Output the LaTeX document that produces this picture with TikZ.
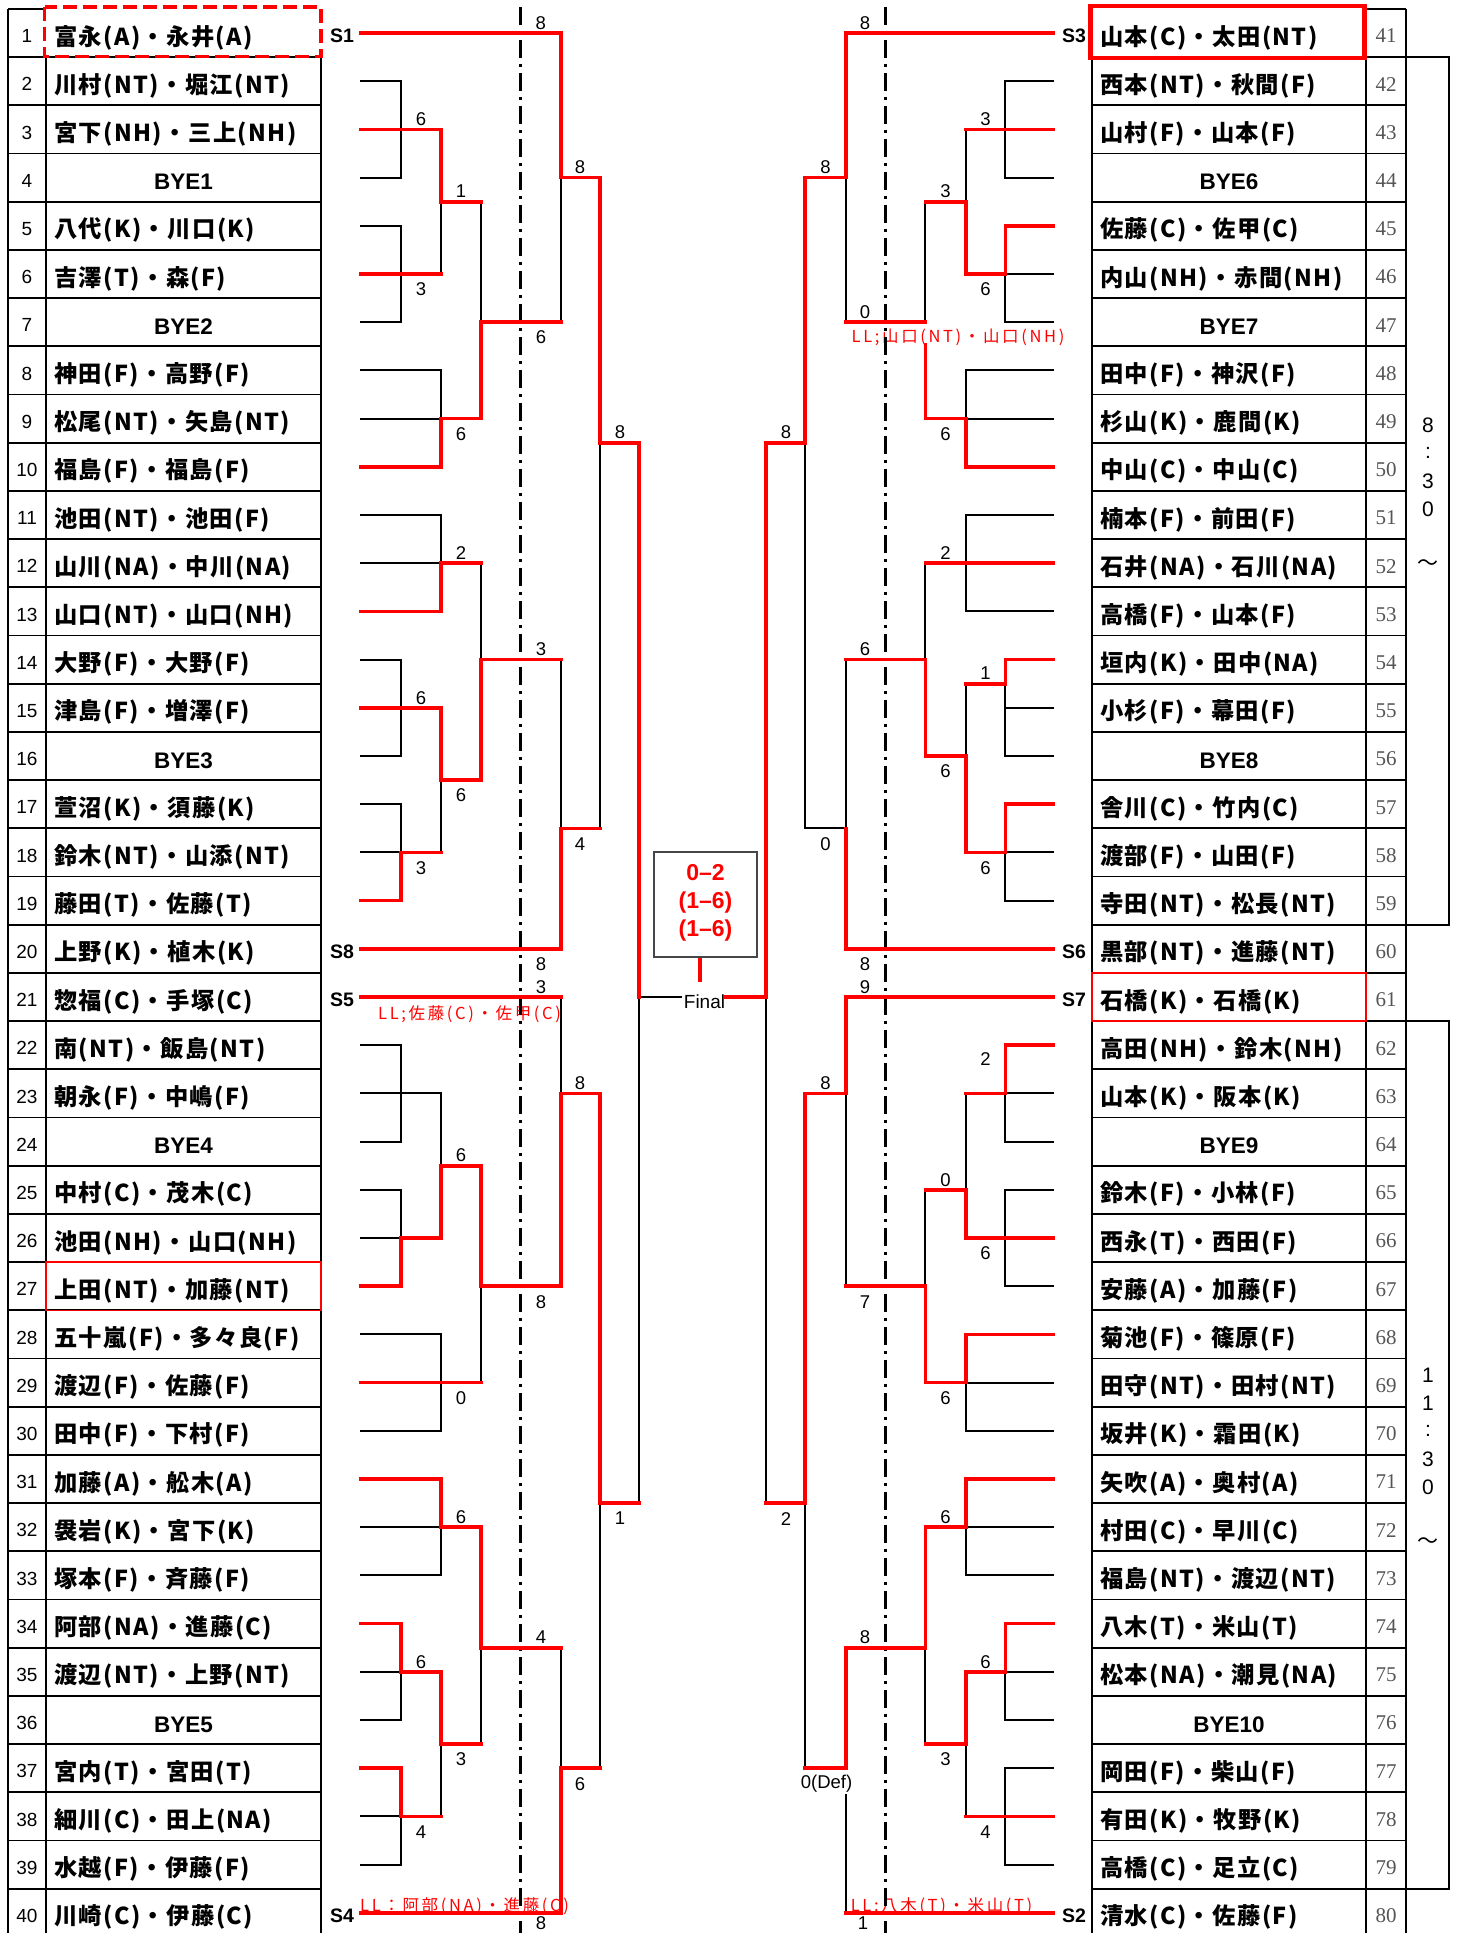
\documentclass[tikz,border=0pt]{standalone}
\usepackage{fontspec}
\setmainfont{Liberation Sans}
\newfontfamily\jp{Noto Sans CJK JP}[LetterSpace=6]
\newfontfamily\jpll{Noto Sans CJK JP}[LetterSpace=16]
\newfontfamily\jpt{Noto Sans CJK JP}
\newfontfamily\numserif{Liberation Serif}
\definecolor{numgray}{RGB}{85,85,85}
\definecolor{boxgray}{RGB}{70,70,70}
\def\xLa{361}\def\xLb{401}\def\xLc{441}\def\xLd{481}\def\xLe{561}\def\xLf{600}\def\xLg{639}
\def\xRa{1053}\def\xRb{1005.3}\def\xRc{965.7}\def\xRd{925.3}\def\xRe{845.7}\def\xRf{805}\def\xRg{766}
\tikzset{
 bk/.style={line width=2pt, black, line cap=rect},
 rd/.style={line width=3.6pt, red, line cap=rect},
 tbl/.style={line width=1.8pt, black},
 nm/.style={font=\jp\bfseries\fontsize{23.3}{23.3}\selectfont, anchor=base west, inner sep=0pt},
 bye/.style={font=\bfseries\fontsize{22.5}{22.5}\selectfont, anchor=base, inner sep=0pt},
 lnum/.style={font=\fontsize{19}{19}\selectfont, anchor=base, inner sep=0pt},
 rnum/.style={font=\numserif\fontsize{21}{21}\selectfont, text=numgray, anchor=base, inner sep=0pt},
 slab/.style={font=\bfseries\fontsize{19.5}{19.5}\selectfont, anchor=base west, inner sep=0pt},
 sc/.style={font=\fontsize{18.5}{18.5}\selectfont, inner sep=0pt},
 lltxt/.style={font=\jpll\fontsize{16.5}{16.5}\selectfont, text=red, anchor=base west, inner sep=0pt},
 tm/.style={font=\fontsize{21}{21}\selectfont, inner sep=0pt},
 dashdot/.style={line width=2.6pt, dash pattern=on 18pt off 6pt on 3pt off 6pt},
}
\begin{document}
\begin{tikzpicture}[x=1pt, y=-24.1pt, line join=miter]
\useasboundingbox[fill=white] (0,-1.36929) rectangle (1459,78.8382);
% ---------- tables ----------
\foreach \h in {1,3,...,77} \draw[tbl] (8,\h)--(321,\h);
\draw[tbl] (8,-1)--(46,-1);
\draw[tbl] (8,-1)--(8,79);
\draw[tbl] (46,1)--(46,79);
\draw[tbl] (321,1)--(321,79);
\foreach \h in {1,3,...,77} \draw[tbl] (1092,\h)--(1406,\h);
\draw[tbl] (1366,-1)--(1406,-1);
\draw[tbl] (1092,1)--(1092,79);
\draw[tbl] (1366,-1)--(1366,79);
\draw[tbl] (1406,-1)--(1406,79);
\draw[tbl] (1406,1) rectangle (1449,37);
\draw[tbl] (1406,41) rectangle (1449,77);
\draw[red, line width=3.6pt, dash pattern=on 14pt off 6pt] (44.6,-1.08) rectangle (321,0.98);
\draw[red, line width=4.4pt] (1090.5,-1.12) rectangle (1364.5,1.04);
\draw[red, line width=1.6pt] (46,51) rectangle (321,53);
\draw[red, line width=1.6pt] (1092,39) rectangle (1366,41);
% numbers
\foreach \k in {1,...,40} \node[lnum] (l\k) at (27,{2*(\k-1)+0.40}) {\k};
\foreach \k in {41,...,80} \node[rnum] (r\k) at (1386,{2*(\k-41)+0.41}) {\k};
% names left
\foreach \k/\t in {1/富永(A)・永井(A),2/川村(NT)・堀江(NT),3/宮下(NH)・三上(NH),5/八代(K)・川口(K),6/吉澤(T)・森(F),8/神田(F)・高野(F),9/松尾(NT)・矢島(NT),10/福島(F)・福島(F),11/池田(NT)・池田(F),12/山川(NA)・中川(NA),13/山口(NT)・山口(NH),14/大野(F)・大野(F),15/津島(F)・増澤(F),17/萱沼(K)・須藤(K),18/鈴木(NT)・山添(NT),19/藤田(T)・佐藤(T),20/上野(K)・植木(K),21/惣福(C)・手塚(C),22/南(NT)・飯島(NT),23/朝永(F)・中嶋(F),25/中村(C)・茂木(C),26/池田(NH)・山口(NH),27/上田(NT)・加藤(NT),28/五十嵐(F)・多々良(F),29/渡辺(F)・佐藤(F),30/田中(F)・下村(F),31/加藤(A)・舩木(A),32/袰岩(K)・宮下(K),33/塚本(F)・斉藤(F),34/阿部(NA)・進藤(C),35/渡辺(NT)・上野(NT),37/宮内(T)・宮田(T),38/細川(C)・田上(NA),39/水越(F)・伊藤(F),40/川崎(C)・伊藤(C)}
  \node[nm] (n\k) at (54,{2*(\k-1)+0.5}) {\t};
\foreach \k/\t in {4/BYE1,7/BYE2,16/BYE3,24/BYE4,36/BYE5}
  \node[bye] (n\k) at (183.5,{2*(\k-1)+0.51}) {\t};
% names right
\foreach \k/\t in {41/山本(C)・太田(NT),42/西本(NT)・秋間(F),43/山村(F)・山本(F),45/佐藤(C)・佐甲(C),46/内山(NH)・赤間(NH),48/田中(F)・神沢(F),49/杉山(K)・鹿間(K),50/中山(C)・中山(C),51/楠本(F)・前田(F),52/石井(NA)・石川(NA),53/高橋(F)・山本(F),54/垣内(K)・田中(NA),55/小杉(F)・幕田(F),57/舎川(C)・竹内(C),58/渡部(F)・山田(F),59/寺田(NT)・松長(NT),60/黒部(NT)・進藤(NT),61/石橋(K)・石橋(K),62/高田(NH)・鈴木(NH),63/山本(K)・阪本(K),65/鈴木(F)・小林(F),66/西永(T)・西田(F),67/安藤(A)・加藤(F),68/菊池(F)・篠原(F),69/田守(NT)・田村(NT),70/坂井(K)・霜田(K),71/矢吹(A)・奥村(A),72/村田(C)・早川(C),73/福島(NT)・渡辺(NT),74/八木(T)・米山(T),75/松本(NA)・潮見(NA),77/岡田(F)・柴山(F),78/有田(K)・牧野(K),79/高橋(C)・足立(C),80/清水(C)・佐藤(F)}
  \node[nm] (n\k) at (1100,{2*(\k-41)+0.5}) {\t};
\foreach \k/\t in {44/BYE6,47/BYE7,56/BYE8,64/BYE9,76/BYE10}
  \node[bye] (n\k) at (1229,{2*(\k-41)+0.51}) {\t};
% time column
\foreach \c/\h [count=\i] in {8/16.26,:/17.42,3/18.59,0/19.75} \node[tm] (ta\i) at (1428,\h) {\c};
\node[tm, font=\jpt\fontsize{21}{21}\selectfont] (ta5) at (1428,22.07) {～};
\foreach \c/\h [count=\i] in {1/55.68,1/56.84,:/58.00,3/59.17,0/60.33} \node[tm] (tb\i) at (1428,\h) {\c};
\node[tm, font=\jpt\fontsize{21}{21}\selectfont] (tb6) at (1428,62.65) {～};
% S labels
\node[slab] (S1) at (330,0.41) {S1};
\node[slab] (S8) at (330,38.41) {S8};
\node[slab] (S5) at (330,40.41) {S5};
\node[slab] (S4) at (330,78.41) {S4};
\node[slab] (S3) at (1062,0.41) {S3};
\node[slab] (S6) at (1062,38.41) {S6};
\node[slab] (S7) at (1062,40.41) {S7};
\node[slab] (S2) at (1062,78.41) {S2};
% LL texts
\node[lltxt] (ll1) at (378,40.93) {LL;佐藤(C)・佐甲(C)};
\node[lltxt] (ll2) at (851.5,12.86) {LL;山口(NT)・山口(NH)};
\node[lltxt] (ll3) at (360,77.93) {LL：阿部(NA)・進藤(C)};
\node[lltxt] (ll4) at (850.6,77.93) {LL:八木(T)・米山(T)};
% dash-dot lines
\draw[dashdot] (520.7,-1.08)--(520.7,79);
\draw[dashdot] (885.7,-1.08)--(885.7,79);
% ---------- left black ----------
\draw[bk] (\xLa,2)--(\xLb,2)--(\xLb,6)--(\xLa,6);
\draw[bk] (\xLa,8)--(\xLb,8)--(\xLb,12)--(\xLa,12);
\draw[bk] (\xLc,7)--(\xLc,10);
\draw[bk] (\xLa,14)--(\xLc,14)--(\xLc,16);
\draw[bk] (\xLa,16)--(\xLc,16);
\draw[bk] (\xLd,7)--(\xLd,12);
\draw[bk] (\xLe,6)--(\xLe,12);
\draw[bk] (\xLa,20)--(\xLc,20)--(\xLc,22);
\draw[bk] (\xLa,22)--(\xLc,22);
\draw[bk] (\xLd,22)--(\xLd,26);
\draw[bk] (\xLa,26)--(\xLb,26)--(\xLb,30)--(\xLa,30);
\draw[bk] (\xLc,31)--(\xLc,34);
\draw[bk] (\xLa,32)--(\xLb,32)--(\xLb,34)--(\xLa,34);
\draw[bk] (\xLe,26)--(\xLe,33);
\draw[bk] (\xLf,17)--(\xLf,33);
\draw[bk] (\xLe,40)--(\xLe,44);
\draw[bk] (\xLa,42)--(\xLb,42)--(\xLb,46)--(\xLa,46);
\draw[bk] (\xLa,44)--(\xLc,44)--(\xLc,47);
\draw[bk] (\xLa,48)--(\xLb,48)--(\xLb,50)--(\xLa,50);
\draw[bk] (\xLd,52)--(\xLd,56);
\draw[bk] (\xLa,54)--(\xLc,54)--(\xLc,58)--(\xLa,58);
\draw[bk] (\xLa,62)--(\xLc,62)--(\xLc,64)--(\xLa,64);
\draw[bk] (\xLd,67)--(\xLd,71);
\draw[bk] (\xLa,68)--(\xLb,68)--(\xLb,70)--(\xLa,70);
\draw[bk] (\xLc,71)--(\xLc,74);
\draw[bk] (\xLa,74)--(\xLb,74)--(\xLb,76)--(\xLa,76);
\draw[bk] (\xLe,67)--(\xLe,72);
\draw[bk] (\xLf,61)--(\xLf,72);
\draw[bk] (\xLg,40)--(\xLg,61);
\draw[bk] (\xLg,40)--(681,40);
% ---------- right black ----------
\draw[bk] (\xRa,2)--(\xRb,2)--(\xRb,6)--(\xRa,6);
\draw[bk] (\xRc,4)--(\xRc,7);
\draw[bk] (\xRa,10)--(\xRb,10)--(\xRb,12)--(\xRa,12);
\draw[bk] (\xRd,7)--(\xRd,12);
\draw[bk] (\xRe,6)--(\xRe,12);
\draw[bk] (\xRa,14)--(\xRc,14)--(\xRc,16);
\draw[bk] (\xRa,16)--(\xRc,16);
\draw[bk] (\xRa,20)--(\xRc,20)--(\xRc,24)--(\xRa,24);
\draw[bk] (\xRd,22)--(\xRd,26);
\draw[bk] (\xRa,28)--(\xRb,28);
\draw[bk] (\xRb,27)--(\xRb,30)--(\xRa,30);
\draw[bk] (\xRc,27)--(\xRc,30);
\draw[bk] (\xRa,34)--(\xRb,34)--(\xRb,36)--(\xRa,36);
\draw[bk] (\xRe,26)--(\xRe,33)--(\xRf,33);
\draw[bk] (\xRf,17)--(\xRf,33);
\draw[bk] (\xRg,40)--(\xRg,61);
\draw[bk] (\xRe,44)--(\xRe,52);
\draw[bk] (\xRa,44)--(\xRb,44)--(\xRb,46)--(\xRa,46);
\draw[bk] (\xRc,44)--(\xRc,48);
\draw[bk] (\xRa,48)--(\xRb,48)--(\xRb,52)--(\xRa,52);
\draw[bk] (\xRd,48)--(\xRd,52);
\draw[bk] (\xRa,56)--(\xRc,56)--(\xRc,58)--(\xRa,58);
\draw[bk] (\xRa,62)--(\xRc,62)--(\xRc,64)--(\xRa,64);
\draw[bk] (\xRd,67)--(\xRd,71);
\draw[bk] (\xRa,68)--(\xRb,68)--(\xRb,70)--(\xRa,70);
\draw[bk] (\xRc,71)--(\xRc,74);
\draw[bk] (\xRa,72)--(\xRb,72)--(\xRb,76)--(\xRa,76);
\draw[bk] (\xRe,73.1)--(\xRe,78);
\draw[bk] (\xRf,61)--(\xRf,72);
% ---------- left red ----------
\draw[rd] (\xLa,0)--(\xLe,0)--(\xLe,6)--(\xLf,6)--(\xLf,17)--(\xLg,17)--(\xLg,40);
\draw[rd] (\xLa,4)--(\xLc,4)--(\xLc,7)--(\xLd,7);
\draw[rd] (\xLa,10)--(\xLc,10);
\draw[rd] (\xLa,18)--(\xLc,18)--(\xLc,16)--(\xLd,16)--(\xLd,12)--(\xLe,12);
\draw[rd] (\xLa,24)--(\xLc,24)--(\xLc,22)--(\xLd,22);
\draw[rd] (\xLe,26)--(\xLd,26)--(\xLd,31)--(\xLc,31);
\draw[rd] (\xLa,28)--(\xLc,28)--(\xLc,31);
\draw[rd] (\xLa,36)--(\xLb,36)--(\xLb,34)--(\xLc,34);
\draw[rd] (\xLa,38)--(\xLe,38)--(\xLe,33)--(\xLf,33);
\draw[rd] (\xLa,40)--(\xLe,40);
\draw[rd] (\xLf,44)--(\xLe,44)--(\xLe,52)--(\xLd,52)--(\xLd,47)--(\xLc,47)--(\xLc,50)--(\xLb,50)--(\xLb,52)--(\xLa,52);
\draw[rd] (\xLa,56)--(\xLd,56);
\draw[rd] (\xLf,44)--(\xLf,61)--(\xLg,61);
\draw[rd] (\xLa,60)--(\xLc,60)--(\xLc,62)--(\xLd,62)--(\xLd,67)--(\xLe,67);
\draw[rd] (\xLa,66)--(\xLb,66)--(\xLb,68)--(\xLc,68)--(\xLc,71)--(\xLd,71);
\draw[rd] (\xLa,72)--(\xLb,72)--(\xLb,74)--(\xLc,74);
\draw[rd] (\xLa,78)--(\xLe,78)--(\xLe,72)--(\xLf,72);
% ---------- right red ----------
\draw[rd] (\xRa,0)--(\xRe,0)--(\xRe,6)--(\xRf,6)--(\xRf,17)--(\xRg,17)--(\xRg,40)--(726,40);
\draw[rd] (\xRa,4)--(\xRc,4);
\draw[rd] (\xRd,7)--(\xRc,7)--(\xRc,10)--(\xRb,10)--(\xRb,8)--(\xRa,8);
\draw[rd] (\xRe,12)--(\xRd,12);
\draw[rd] (\xRd,12.95)--(\xRd,16)--(\xRc,16)--(\xRc,18)--(\xRa,18);
\draw[rd] (\xRa,22)--(\xRd,22);
\draw[rd] (\xRe,26)--(\xRd,26)--(\xRd,30)--(\xRc,30)--(\xRc,34)--(\xRb,34)--(\xRb,32)--(\xRa,32);
\draw[rd] (\xRa,26)--(\xRb,26)--(\xRb,27)--(\xRc,27);
\draw[rd] (\xRa,38)--(\xRe,38)--(\xRe,33);
\draw[rd] (\xRa,40)--(\xRe,40)--(\xRe,44)--(\xRf,44)--(\xRf,61)--(\xRg,61);
\draw[rd] (\xRa,42)--(\xRb,42)--(\xRb,44)--(\xRc,44);
\draw[rd] (\xRd,48)--(\xRc,48)--(\xRc,50)--(\xRa,50);
\draw[rd] (\xRe,52)--(\xRd,52)--(\xRd,56)--(\xRc,56)--(\xRc,54)--(\xRa,54);
\draw[rd] (\xRa,60)--(\xRc,60)--(\xRc,62)--(\xRd,62)--(\xRd,67)--(\xRe,67)--(\xRe,72)--(\xRf,72);
\draw[rd] (\xRa,66)--(\xRb,66)--(\xRb,68)--(\xRc,68)--(\xRc,71)--(\xRd,71);
\draw[rd] (\xRa,74)--(\xRc,74);
\draw[rd] (\xRa,78)--(\xRe,78);
% ---------- final ----------
\node[draw=boxgray, line width=1.3pt, minimum width=103pt, minimum height=105pt, inner sep=0pt] (score) at (705.5,36.16) {};
\node[font=\bfseries\fontsize{23}{23}\selectfont, text=red, inner sep=0pt, anchor=base] (sc1) at (705.5,35.15) {0–2};
\node[font=\bfseries\fontsize{23}{23}\selectfont, text=red, inner sep=0pt, anchor=base] (sc2) at (705.5,36.31) {(1–6)};
\node[font=\bfseries\fontsize{23}{23}\selectfont, text=red, inner sep=0pt, anchor=base] (sc3) at (705.5,37.47) {(1–6)};
\draw[red, line width=3.6pt] (700,38.38)--(700,39.38);
\node[font=\fontsize{19}{19}\selectfont, anchor=base, inner sep=0pt] (final) at (704.5,40.48) {Final};
% ---------- scores left ----------
\node[sc] (a1) at (540.7,-0.42) {8};
\node[sc] (a2) at (421,3.58) {6};
\node[sc] (a3) at (461,6.58) {1};
\node[sc] (a4) at (421,10.64) {3};
\node[sc] (a5) at (580,5.58) {8};
\node[sc] (a6) at (541,12.64) {6};
\node[sc] (a7) at (461,16.64) {6};
\node[sc] (a8) at (620,16.58) {8};
\node[sc] (a9) at (461,21.58) {2};
\node[sc] (a10) at (541,25.58) {3};
\node[sc] (a11) at (421,27.58) {6};
\node[sc] (a12) at (461,31.64) {6};
\node[sc] (a13) at (421,34.64) {3};
\node[sc] (a14) at (580,33.64) {4};
\node[sc] (a15) at (541,38.64) {8};
\node[sc] (a16) at (541,39.58) {3};
\node[sc] (a17) at (580,43.58) {8};
\node[sc] (a18) at (461,46.58) {6};
\node[sc] (a19) at (541,52.64) {8};
\node[sc] (a20) at (461,56.64) {0};
\node[sc] (a21) at (620,61.64) {1};
\node[sc] (a22) at (461,61.58) {6};
\node[sc] (a23) at (541,66.58) {4};
\node[sc] (a24) at (421,67.58) {6};
\node[sc] (a25) at (461,71.64) {3};
\node[sc] (a26) at (580,72.64) {6};
\node[sc] (a27) at (421,74.64) {4};
\node[sc] (a28) at (541,78.44) {8};
% ---------- scores right ----------
\node[sc] (b1) at (865,-0.42) {8};
\node[sc] (b2) at (985.5,3.58) {3};
\node[sc] (b3) at (945.5,6.58) {3};
\node[sc] (b4) at (985.5,10.64) {6};
\node[sc] (b5) at (825.5,5.58) {8};
\node[sc] (b6) at (865,11.58) {0};
\node[sc] (b7) at (945.5,16.64) {6};
\node[sc] (b8) at (786,16.58) {8};
\node[sc] (b9) at (945.5,21.58) {2};
\node[sc] (b10) at (865,25.58) {6};
\node[sc] (b11) at (985.5,26.58) {1};
\node[sc] (b12) at (945.5,30.64) {6};
\node[sc] (b13) at (985.5,34.64) {6};
\node[sc] (b14) at (825.5,33.64) {0};
\node[sc] (b15) at (865,38.64) {8};
\node[sc] (b16) at (865,39.58) {9};
\node[sc] (b17) at (825.5,43.58) {8};
\node[sc] (b18) at (985.5,42.57) {2};
\node[sc] (b19) at (945.5,47.58) {0};
\node[sc] (b20) at (985.5,50.64) {6};
\node[sc] (b21) at (865,52.64) {7};
\node[sc] (b22) at (945.5,56.64) {6};
\node[sc] (b23) at (786,61.64) {2};
\node[sc] (b24) at (945.5,61.58) {6};
\node[sc] (b25) at (865,66.58) {8};
\node[sc] (b26) at (985.5,67.58) {6};
\node[sc] (b27) at (945.5,71.64) {3};
\node[sc] (b28) at (826.5,72.64) {0(Def)};
\node[sc] (b29) at (985.5,74.64) {4};
\node[sc] (b30) at (863,78.44) {1};
\end{tikzpicture}
\end{document}
